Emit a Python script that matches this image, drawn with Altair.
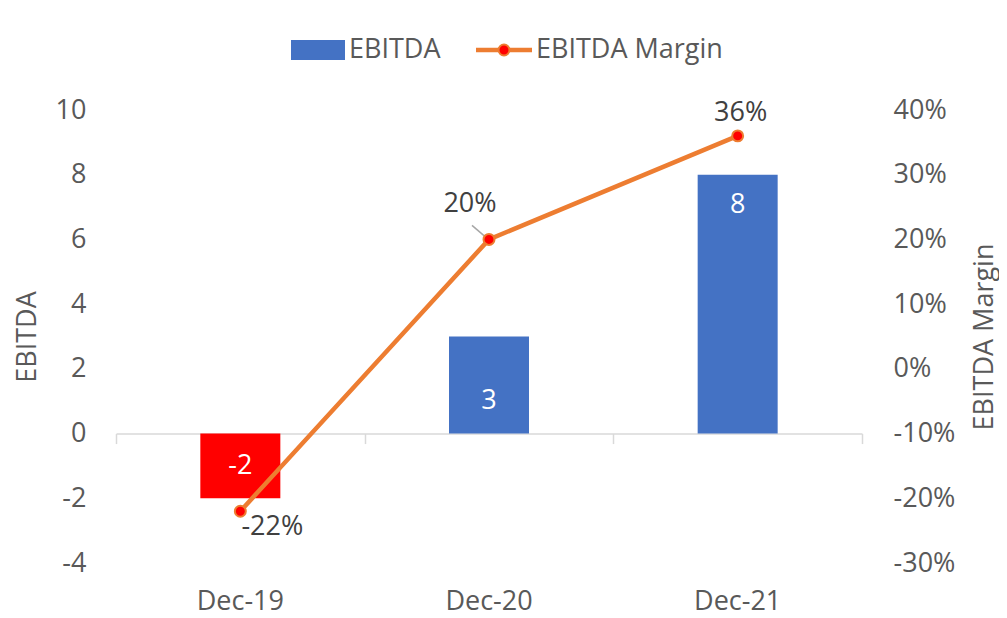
import altair as alt
import pandas as pd

categories = ["Dec-19", "Dec-20", "Dec-21"]
ebitda = [-2, 3, 8]
ebitda_margin = [-0.22, 0.20, 0.36]
bar_label_pos = [-1.0, 1.0, 7.05]
left_ticks = [-4, -2, 0, 2, 4, 6, 8, 10]
right_ticks = [-0.3, -0.2, -0.1, 0.0, 0.1, 0.2, 0.3, 0.4]

BLUE = "#4472C4"
RED = "#FF0000"
ORANGE = "#ED7D31"
AXIS_TXT = "#595959"
LBL = "#404040"
FONT = "Open Sans"
FS = 27

W, H = 746, 453

df = pd.DataFrame({
    "period": categories,
    "ebitda": ebitda,
    "margin": ebitda_margin,
    "label_pos": bar_label_pos,
})

xscale = alt.Scale(domain=categories, paddingInner=0, paddingOuter=0)
yl = alt.Scale(domain=[-4, 10], nice=False, zero=False)
yr = alt.Scale(domain=[-0.3, 0.4], nice=False, zero=False)

label_axis = alt.Axis(title=None, orient="bottom", domain=False, ticks=False, grid=False,
                      labelAngle=0, labelFont=FONT, labelFontSize=FS, labelColor=AXIS_TXT,
                      labelPadding=25)
zero_axis = alt.Axis(title=None, orient="bottom", labels=False, grid=False, domain=True,
                     ticks=True, domainColor="#D9D9D9", domainWidth=1.5, tickColor="#D9D9D9",
                     tickWidth=1.5, tickSize=10, tickBand="extent",
                     offset=-(H - H * 10 / 14))

left_axis = alt.Axis(title="EBITDA", values=left_ticks, domain=False, ticks=False, grid=False,
                     labelExpr="datum.value + ''",
                     labelFont=FONT, labelFontSize=FS, labelColor=AXIS_TXT, labelPadding=30,
                     titleFont=FONT, titleFontSize=FS, titleFontWeight="normal",
                     titleColor=AXIS_TXT, titleAngle=270, titleX=-89, titleY=H / 2,
                     titleAlign="center", titleBaseline="middle")
right_axis = alt.Axis(title="EBITDA Margin", values=right_ticks, orient="right",
                      labelExpr="round(datum.value * 100) + '%'",
                      domain=False, ticks=False, grid=False,
                      labelFont=FONT, labelFontSize=FS, labelColor=AXIS_TXT, labelPadding=31,
                      titleFont=FONT, titleFontSize=FS, titleFontWeight="normal",
                      titleColor=AXIS_TXT, titleAngle=270, titleX=122, titleY=H / 2,
                      titleAlign="center", titleBaseline="middle")

base = alt.Chart(df).transform_calculate(
    ebitda_txt="datum.ebitda + ''",
    margin_txt="round(datum.margin * 100) + '%'",
)

bars = base.mark_bar(size=80).encode(
    x=alt.X("period:N", sort=categories, scale=xscale, axis=label_axis),
    y=alt.Y("ebitda:Q", scale=yl, axis=left_axis),
    color=alt.condition(alt.datum.ebitda < 0, alt.value(RED), alt.value(BLUE)),
)
bar_labels = base.mark_text(font=FONT, fontSize=FS, color="white", baseline="middle").encode(
    x=alt.X("period:N", sort=categories, scale=xscale, axis=None),
    y=alt.Y("label_pos:Q", scale=yl, axis=None),
    text=alt.Text("ebitda_txt:N"),
)

line = base.mark_line(color=ORANGE, strokeWidth=4.5).encode(
    x=alt.X("period:N", sort=categories, scale=xscale, axis=zero_axis),
    y=alt.Y("margin:Q", scale=yr, axis=right_axis),
)
pts = base.mark_point(filled=True, fill=RED, stroke=ORANGE, strokeWidth=2,
                      size=120, opacity=1).encode(
    x=alt.X("period:N", sort=categories, scale=xscale, axis=None),
    y=alt.Y("margin:Q", scale=yr, axis=None),
)
leader = base.transform_filter(alt.datum.period == "Dec-20").mark_rule(
    color="#A6A6A6", strokeWidth=1.5, xOffset=-3, yOffset=-2, x2Offset=-17, y2Offset=-14
).encode(
    x=alt.X("period:N", sort=categories, scale=xscale, axis=None, bandPosition=0.5),
    x2=alt.X2("period:N", bandPosition=0.5),
    y=alt.Y("margin:Q", scale=yr, axis=None),
    y2="margin:Q",
)


def mlabel(cat, dx, dy):
    return base.transform_filter(alt.datum.period == cat).mark_text(
        font=FONT, fontSize=FS, color=LBL, baseline="middle", align="center", dx=dx, dy=dy
    ).encode(
        x=alt.X("period:N", sort=categories, scale=xscale, axis=None),
        y=alt.Y("margin:Q", scale=yr, axis=None),
        text=alt.Text("margin_txt:N"),
    )


leg_df = pd.DataFrame({"a": [0]})
leg_rect = alt.Chart(leg_df).mark_rect(color=BLUE).encode(
    x=alt.value(175), x2=alt.value(229), y=alt.value(-70), y2=alt.value(-50))
leg_t1 = alt.Chart(leg_df).mark_text(font=FONT, fontSize=FS, color=AXIS_TXT, align="left",
                                      baseline="middle", text="EBITDA").encode(
    x=alt.value(233), y=alt.value(-60))
leg_line = alt.Chart(leg_df).mark_rule(color=ORANGE, strokeWidth=4.5).encode(
    x=alt.value(360), x2=alt.value(416), y=alt.value(-60))
leg_pt = alt.Chart(leg_df).mark_point(filled=True, fill=RED, stroke=ORANGE, strokeWidth=2,
                                      size=120, opacity=1).encode(
    x=alt.value(388), y=alt.value(-60))
leg_t2 = alt.Chart(leg_df).mark_text(font=FONT, fontSize=FS, color=AXIS_TXT, align="left",
                                      baseline="middle", text="EBITDA Margin").encode(
    x=alt.value(420), y=alt.value(-60))

chart = alt.layer(
    bars, bar_labels, line, leader, pts,
    mlabel("Dec-19", 32, 16), mlabel("Dec-20", -19, -35), mlabel("Dec-21", 3, -23),
    leg_rect, leg_t1, leg_line, leg_pt, leg_t2,
).resolve_scale(y="independent").resolve_axis(x="independent", y="independent").properties(
    width=W, height=H,
    autosize=alt.AutoSizeParams(type="none"),
    padding={"left": 108, "top": 102, "right": 137, "bottom": 54},
).configure_view(stroke=None)

chart.save("out.html", embed_options={"renderer": "svg", "actions": False})
